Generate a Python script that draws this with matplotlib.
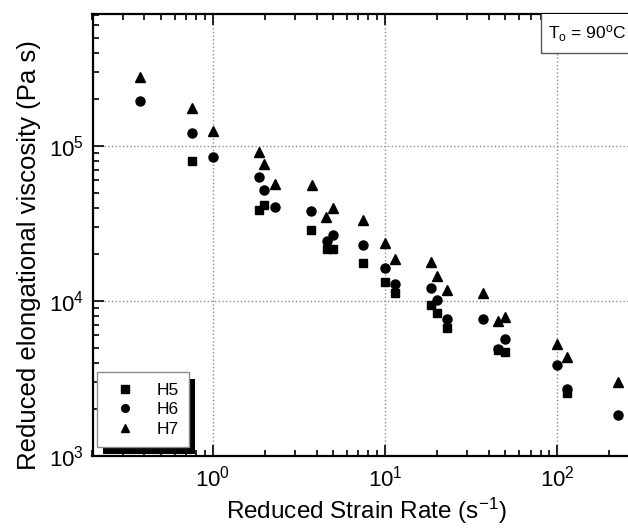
import matplotlib
matplotlib.use('Agg')
import matplotlib.pyplot as plt
from matplotlib.patches import Rectangle
from matplotlib.ticker import LogLocator, NullFormatter

plt.rcParams['font.family'] = ['Liberation Sans', 'DejaVu Sans']
plt.rcParams['mathtext.fontset'] = 'custom'
plt.rcParams['mathtext.rm'] = 'Liberation Sans'
plt.rcParams['mathtext.it'] = 'Liberation Sans:italic'

# Daten
h5_x = [0.755, 1.86, 1.99, 3.7, 4.6, 5.0, 7.48, 10.0, 11.4, 18.5, 20.0, 22.8, 45.5, 49.7, 113.5]
h5_y = [8.0e4, 3.85e4, 4.16e4, 2.87e4, 2.15e4, 2.15e4, 1.77e4, 1.33e4, 1.13e4, 9.4e3, 8.4e3,
        6.7e3, 4.83e3, 4.69e3, 2.54e3]

h6_x = [0.378, 0.755, 1.0, 1.86, 1.99, 2.28, 3.7, 4.6, 5.0, 7.48, 10.0, 11.4, 18.5, 20.0, 22.8,
        37.2, 45.5, 49.7, 99.0, 113.5, 226.0]
h6_y = [1.95e5, 1.21e5, 8.5e4, 6.3e4, 5.2e4, 4.05e4, 3.8e4, 2.45e4, 2.67e4, 2.29e4, 1.64e4,
        1.28e4, 1.21e4, 1.01e4, 7.7e3, 7.7e3, 4.9e3, 5.7e3, 3.85e3, 2.69e3, 1.84e3]

h7_x = [0.378, 0.755, 1.0, 1.86, 1.99, 2.28, 3.75, 4.55, 4.98, 7.48, 10.0, 11.4, 18.5, 20.0, 22.8,
        37.2, 45.5, 49.7, 99.0, 113.5, 226.0]
h7_y = [2.8e5, 1.75e5, 1.25e5, 9.2e4, 7.6e4, 5.7e4, 5.6e4, 3.5e4, 4.0e4, 3.33e4, 2.38e4,
        1.86e4, 1.79e4, 1.45e4, 1.17e4, 1.13e4, 7.4e3, 7.9e3, 5.26e3, 4.36e3, 3.0e3]

fig = plt.figure(figsize=(6.28, 5.28), dpi=100)
# Achse ragt rechts über den Bildrand hinaus (wie im Original)
ax = fig.add_axes([92.5 / 628, 72 / 528, 547 / 628, 442 / 528])

ax.plot(h5_x, h5_y, 's', color='black', markersize=6, label='H5', zorder=3)
ax.plot(h6_x, h6_y, 'o', color='black', markersize=6.5, label='H6', zorder=3)
ax.plot(h7_x, h7_y, '^', color='black', markersize=7, label='H7', zorder=3)

ax.set_xscale('log')
ax.set_yscale('log')
ax.set_xlim(0.2, 300)
ax.set_ylim(1e3, 7.1e5)

ax.xaxis.set_major_locator(LogLocator(base=10, numticks=10))
ax.xaxis.set_minor_locator(LogLocator(base=10, subs=range(2, 10), numticks=20))
ax.yaxis.set_minor_locator(LogLocator(base=10, subs=range(2, 10), numticks=20))
ax.xaxis.set_minor_formatter(NullFormatter())
ax.yaxis.set_minor_formatter(NullFormatter())

ax.tick_params(which='both', direction='in', top=True, right=True, width=1.2)
ax.tick_params(which='major', length=8, labelsize=16)
ax.tick_params(axis='x', which='major', pad=7)
ax.tick_params(axis='y', which='major', pad=6)
ax.tick_params(which='minor', length=4)
for sp in ax.spines.values():
    sp.set_linewidth(1.6)

ax.grid(True, which='major', linestyle=':', color='0.55', linewidth=1)

ax.set_xlabel('Reduced Strain Rate (s$^{\\mathregular{-1}}$)', fontsize=17.5, labelpad=3)
ax.set_ylabel('Reduced elongational viscosity (Pa s)', fontsize=18.5)
ax.yaxis.set_label_coords(-0.094, 0.455)

# Temperaturkasten oben rechts
ax.add_patch(Rectangle((0.820, 0.912), 0.3, 0.2, transform=ax.transAxes,
                       facecolor='white', edgecolor='0.35', linewidth=1, zorder=4, clip_on=True))
ax.text(0.833, 0.956, 'T$_{\\mathregular{o}}$ = 90$^{\\mathregular{o}}$C', transform=ax.transAxes,
        fontsize=12.5, ha='left', va='center', zorder=5)

leg = ax.legend(loc='lower left', bbox_to_anchor=(0.0088, 0.020), borderaxespad=0,
                fontsize=12.5, frameon=True, fancybox=False, framealpha=1,
                edgecolor='0.55', handlelength=2.0, handletextpad=0.8, borderpad=0.6,
                labelspacing=0.25, markerscale=0.85)
leg.get_frame().set_linewidth(1)
leg.set_zorder(6)

# Schwarzer Schatten der Legende
fig.canvas.draw()
bb = leg.get_window_extent().transformed(ax.transAxes.inverted())
dx = 6 / 547
dy = 7 / 442
ax.add_patch(Rectangle((bb.x0 + dx, bb.y0 - dy), bb.width, bb.height, transform=ax.transAxes,
                       facecolor='black', edgecolor='none', zorder=5.5, clip_on=False))

fig.savefig('out.png', dpi=100)
